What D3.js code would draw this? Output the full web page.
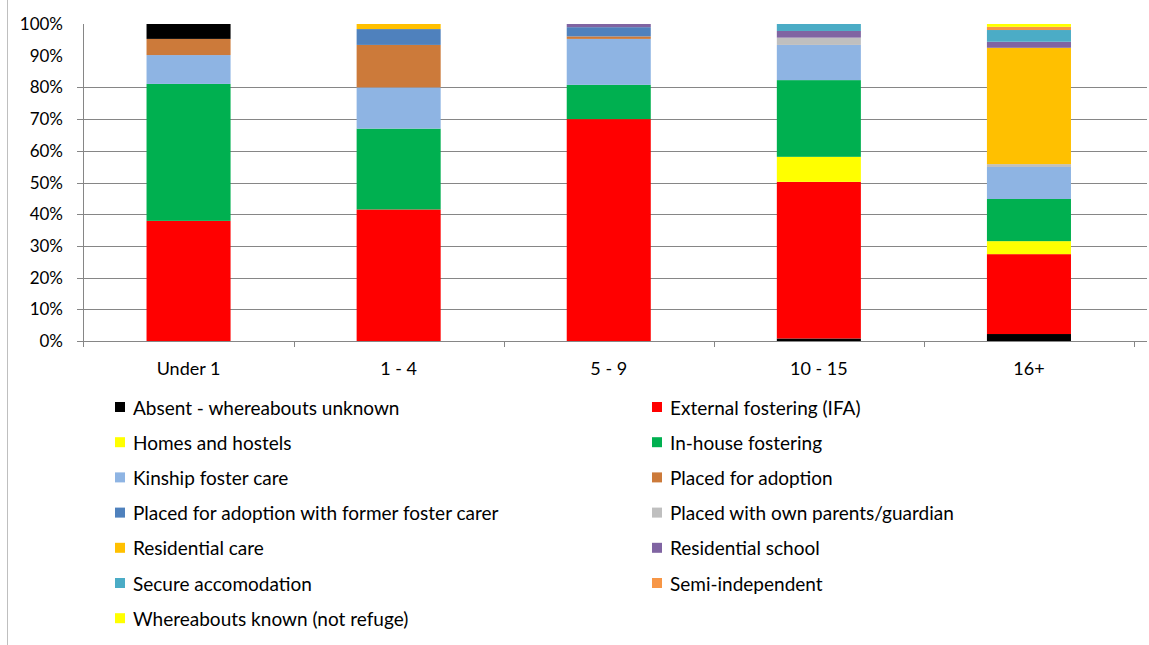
<!DOCTYPE html>
<html><head><meta charset="utf-8">
<script src="https://cdn.jsdelivr.net/npm/d3@7"></script>
<style>
html,body{margin:0;padding:0;background:#fff;}
svg{display:block;font-family:Lato,"Open Sans",sans-serif;}
</style></head>
<body><svg id="c" width="1149" height="645"></svg>
<script>
const categories = ["Under 1", "1 - 4", "5 - 9", "10 - 15", "16+"];
const seriesNames = ["Absent - whereabouts unknown","External fostering (IFA)","Homes and hostels","In-house fostering","Kinship foster care","Placed for adoption","Placed for adoption with former foster carer","Placed with own parents/guardian","Residential care","Residential school","Secure accomodation","Semi-independent","Whereabouts known (not refuge)","Other"];
const seriesColors = ["#000000","#FF0000","#FFFF00","#00B050","#8EB4E3","#CC7A3A","#4F81BD","#BFBFBF","#FFC000","#8064A2","#4BACC6","#F79646","#FFFF00","#000000"];
const inLegend = [true,true,true,true,true,true,true,true,true,true,true,true,true,false];
// percent values per series, in category order
const absent      = [0,   0,    0,    0.8,  2.2];
const external    = [37.9,41.5, 70.0, 49.4, 25.2];
const homes       = [0,   0,    0,    7.9,  4.1];
const inhouse     = [43.2,25.5, 10.8, 24.2, 13.3];
const kinship     = [9.1, 13.0, 14.5, 11.1, 10.1];
const adoption    = [5.1, 13.4, 0.8,  0,    0];
const adoptFormer = [0,   5.0,  2.9,  0,    0];
const ownParents  = [0,   0,    0,    2.3,  0.9];
const resCare     = [0,   1.6,  0,    0,    36.7];
const resSchool   = [0,   0,    1.0,  2.1,  1.9];
const secure      = [0,   0,    0,    2.2,  3.7];
const semiIndep   = [0,   0,    0,    0,    1.0];
const whereabouts = [0,   0,    0,    0,    0.9];
const other       = [4.7, 0,    0,    0,    0];
const yTicks = [0,10,20,30,40,50,60,70,80,90,100];
const gridTicks = [0,10,20,30,40,50,60,70,80];

const allSeries = [absent,external,homes,inhouse,kinship,adoption,adoptFormer,ownParents,resCare,resSchool,secure,semiIndep,whereabouts,other];
const table = categories.map((c,i)=>{const o={cat:c}; seriesNames.forEach((s,j)=>o[s]=allSeries[j][i]); return o;});
const stack = d3.stack().keys(seriesNames)(table);

const svg = d3.select("#c");
const x = d3.scaleBand().domain(categories).range([83.5,1134]).paddingInner(0.6).paddingOuter(0.3);
const y = d3.scaleLinear().domain([0,100]).range([341,24]);

// chart border (left)
svg.append("line").attr("x1",7.5).attr("x2",7.5).attr("y1",0).attr("y2",645).attr("stroke","#bfbfbf").attr("stroke-width",1);

// gridlines
svg.append("g").selectAll("line").data(gridTicks).join("line")
  .attr("x1",77).attr("x2",1147).attr("y1",d=>Math.round(y(d))+0.5).attr("y2",d=>Math.round(y(d))+0.5)
  .attr("stroke","#868686").attr("stroke-width",1);

// bars
svg.append("g").selectAll("g").data(stack).join("g")
  .attr("fill",(d,i)=>seriesColors[i])
  .selectAll("rect").data(d=>d).join("rect")
  .attr("x",d=>x(d.data.cat)).attr("width",x.bandwidth())
  .attr("y",d=>y(d[1])).attr("height",d=>Math.max(0,y(d[0])-y(d[1])));

// y axis line
svg.append("line").attr("x1",83.5).attr("x2",83.5).attr("y1",24).attr("y2",341).attr("stroke","#868686");
// x axis ticks
const bounds = categories.map(c=>x(c)-x.step()*0.3).concat([1134]);
svg.append("g").selectAll("line").data(bounds).join("line")
  .attr("x1",d=>Math.round(d)+0.5).attr("x2",d=>Math.round(d)+0.5).attr("y1",341).attr("y2",347).attr("stroke","#868686");
svg.append("line").attr("x1",83).attr("x2",1147).attr("y1",341.5).attr("y2",341.5).attr("stroke","#868686");

// y labels
svg.append("g").selectAll("text").data(yTicks).join("text")
  .attr("x",63).attr("y",d=>y(d)+6).attr("text-anchor","end")
  .attr("font-size",17).attr("fill","#000").text(d=>d+"%");
// x labels
svg.append("g").selectAll("text").data(categories).join("text")
  .attr("x",d=>x(d)+x.bandwidth()/2).attr("y",375).attr("text-anchor","middle")
  .attr("font-size",18).attr("fill","#000").text(d=>d);

// legend
const legItems = seriesNames.map((s,i)=>({s,c:seriesColors[i],show:inLegend[i]})).filter(d=>d.show);
const lg = svg.append("g").selectAll("g").data(legItems).join("g")
  .attr("transform",(d,i)=>`translate(${i%2===0?115:652},${408+Math.floor(i/2)*35.2})`);
lg.append("rect").attr("x",0).attr("y",-6).attr("width",10).attr("height",10).attr("fill",d=>d.c);
lg.append("text").attr("x",18).attr("y",6.5).attr("font-size",19).attr("fill","#000").text(d=>d.s);
</script></body></html>
